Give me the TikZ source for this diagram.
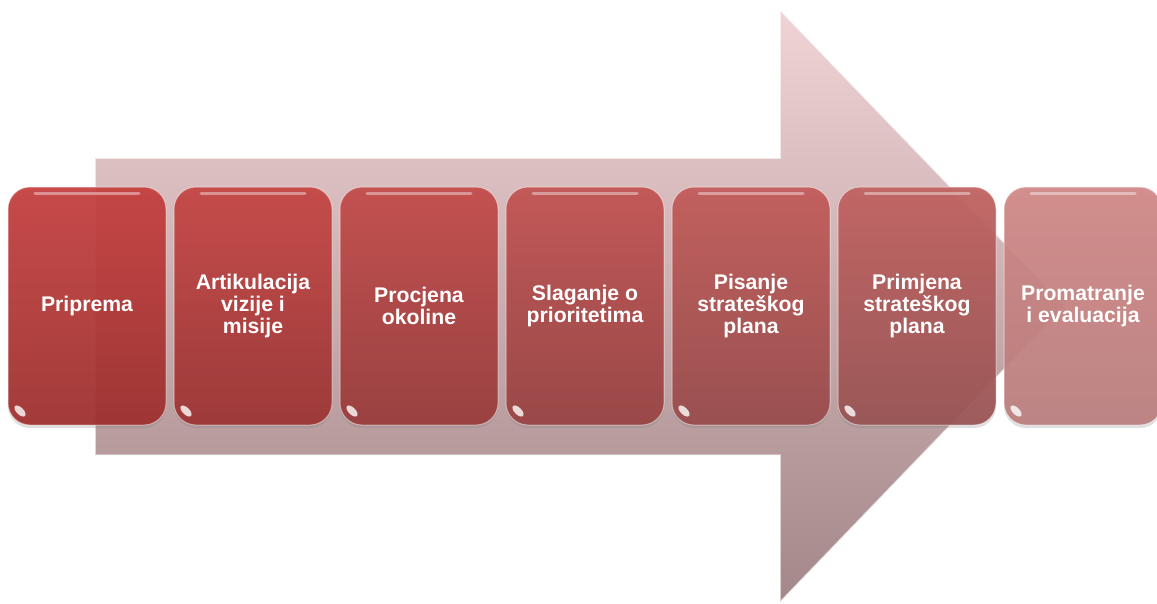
\documentclass[tikz,border=0pt]{standalone}
\usepackage{fontspec}
\setmainfont{Liberation Sans}
\usetikzlibrary{shadows}
\definecolor{arrtop}{HTML}{F0D4D5}
\definecolor{arrbot}{HTML}{A48789}
\tikzset{
  stagebox/.style={draw=white, draw opacity=0.45, line width=1pt, rounded corners=22pt,
    minimum width=158pt, minimum height=238pt, inner sep=0pt,
    text=white, font=\bfseries\fontsize{21.2}{22}\selectfont, align=center,
    fill opacity=0.92, text opacity=1,
    drop shadow={shadow xshift=0pt, shadow yshift=-3pt, opacity=0.25}},
  glint/.style={fill=white, opacity=0.8},
  topline/.style={draw=white, line width=3pt, opacity=0.4, line cap=round},
}
\begin{document}
\begin{tikzpicture}[x=1pt,y=-1pt]
\useasboundingbox (0,0) rectangle (1157,603);
% background arrow
\path[top color=arrtop, bottom color=arrbot, draw=white, draw opacity=0.6, line width=1.5pt]
  (95,158) -- (780,158) -- (780,10) -- (1065,306) -- (780,602) -- (780,455) -- (95,455) -- cycle;
% stages
\foreach \n/\x/\tc/\bc/\t in {
  a/87/C53E3D/9D2E2D/{Priprema},
  b/253/C54442/9C3433/{Artikulacija\\vizije i\\misije},
  c/419/C34A49/993A3A/{Procjena\\okoline},
  d/585/C25251/984242/{Slaganje o\\prioritetima},
  e/751/C25A58/984A4A/{Pisanje\\strateškog\\plana},
  f/917/C1615F/985252/{Primjena\\strateškog\\plana},
  g/1083/D08886/BA7C7C/{Promatranje\\i evaluacija}} {
  \definecolor{tc\n}{HTML}{\tc}
  \definecolor{bc\n}{HTML}{\bc}
  \node[stagebox, top color=tc\n, bottom color=bc\n] (\n) at (\x,306) {\t};
  \draw[topline] ([xshift=-52pt,yshift=-7pt]\n.north) -- ([xshift=52pt,yshift=-7pt]\n.north);
  \fill[glint, rotate around={-45:(\x-67,411)}] (\x-67,411) ellipse (7pt and 3.5pt);
}
\end{tikzpicture}
\end{document}
